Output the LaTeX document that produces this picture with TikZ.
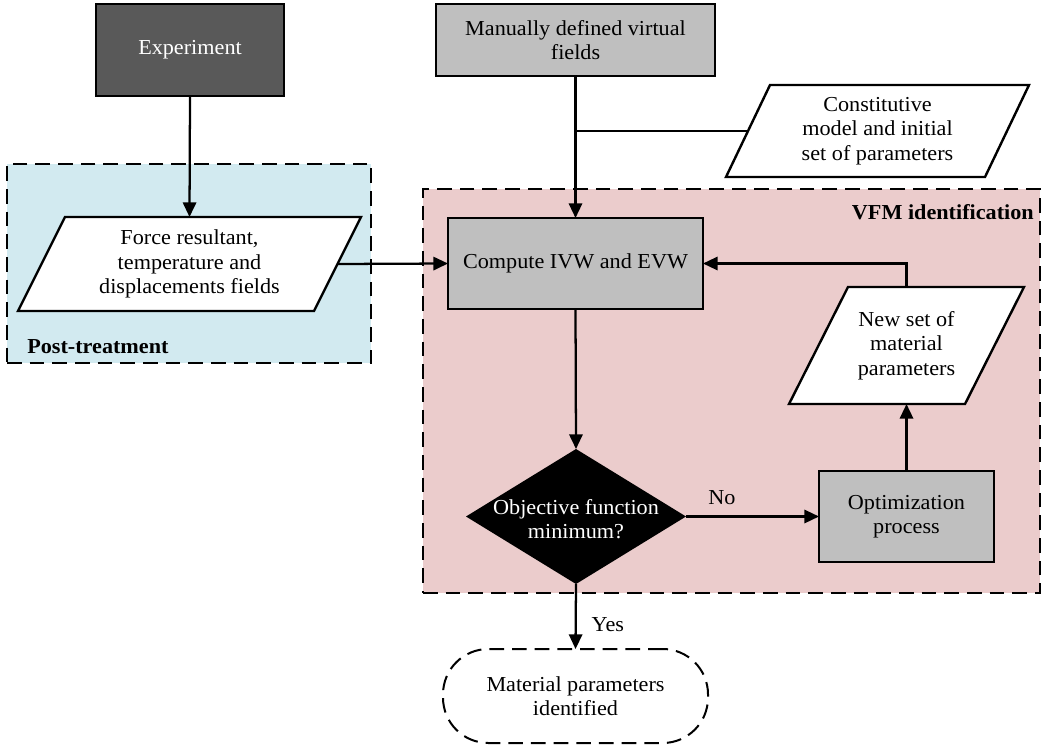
\documentclass[tikz,border=0pt]{standalone}
\usepackage{fontspec}
\setmainfont{Liberation Serif}[FakeStretch=1.04]
\usetikzlibrary{arrows.meta}
\pgfdeclarelayer{bg}
\pgfdeclarelayer{shp}
\pgfsetlayers{bg,shp,main}
\definecolor{darkbox}{HTML}{595959}
\definecolor{graybox}{HTML}{BFBFBF}
\definecolor{postblue}{HTML}{D2EAF0}
\definecolor{vfmpink}{HTML}{EBCCCC}
\begin{document}
\begin{tikzpicture}[x=0.75pt,y=-0.75pt,
  txt/.style={font=\fontsize{16}{18.2}\selectfont, align=center, inner sep=0pt, outer sep=0pt},
  boxed/.style={txt, draw, line width=1.8pt, rectangle},
  conn/.style={line width=1.7pt},
  arr/.style={conn, -{Triangle[length=11pt,width=10pt]}},
  pshape/.style={draw, fill=white, line width=1.8pt, line join=miter},
  region/.style={draw, line width=1.3pt, dash pattern=on 11pt off 6pt, inner sep=0pt, outer sep=0pt},
  lbl/.style={font=\fontsize{16}{18.2}\selectfont\bfseries, inner sep=0pt},
]
\useasboundingbox (0,0) rectangle (1044,749);

% regions
\begin{pgfonlayer}{bg}
\node (vfm) [region, fill=vfmpink, minimum width=462.75pt, minimum height=303pt] at (731.5,391) {};
\node (post) [region, fill=postblue, minimum width=273pt, minimum height=149.25pt] at (189,263.5) {};
\end{pgfonlayer}
\node[lbl, anchor=west] (postlbl) at (27,347) {Post-treatment};
\node[lbl, anchor=east] (vfmlbl) at (1034,212) {VFM identification};

% rectangles
\node (exp) [boxed, fill=darkbox, text=white, minimum width=141pt, minimum height=69pt] at (190,50) {Experiment};
\node (man) [boxed, fill=graybox, minimum width=209.25pt, minimum height=54pt] at (575.5,40) {Manually defined virtual\\fields};
\node (comp) [boxed, fill=graybox, minimum width=191.25pt, minimum height=68.25pt] at (575.5,263.5) {Compute IVW and EVW};
\node (opt) [boxed, fill=graybox, minimum width=131.25pt, minimum height=68.25pt] at (906.5,516.5) {Optimization\\process};
\node (term) [txt, draw, line width=1.5pt, dash pattern=on 11pt off 6pt, rounded corners=34pt, minimum width=198.75pt, minimum height=70.5pt] at (575.5,696) {Material parameters\\identified};

% parallelograms (text nodes, outline drawn behind)
\node (force) [txt, minimum width=257.25pt, minimum height=70.5pt] at (189.5,264) {Force resultant,\\temperature and\\displacements fields};
\node (cons) [txt, minimum width=227.25pt, minimum height=69pt] at (877.5,131) {Constitutive\\model and initial\\set of parameters};
\node (new) [txt, minimum width=176.25pt, minimum height=87.75pt] at (906.5,345.5) {New set of\\material\\parameters};
\begin{pgfonlayer}{shp}
\path[pshape] ([xshift=35.25pt]force.north west) -- (force.north east) -- ([xshift=-35.25pt]force.south east) -- (force.south west) -- cycle;
\path[pshape] ([xshift=33pt]cons.north west) -- (cons.north east) -- ([xshift=-33pt]cons.south east) -- (cons.south west) -- cycle;
\path[pshape] ([xshift=44.25pt]new.north west) -- (new.north east) -- ([xshift=-44.25pt]new.south east) -- (new.south west) -- cycle;
\end{pgfonlayer}

% decision diamond
\node (dia) [txt, minimum width=165pt, minimum height=101.25pt] at (576,516.5) {};
\begin{pgfonlayer}{shp}
\fill[black] (dia.north) -- (dia.east) -- (dia.south) -- (dia.west) -- cycle;
\end{pgfonlayer}
\node (diatxt) [txt, text=white] at (576,519) {Objective function\\minimum?};

% connectors
\draw[arr] (exp.south) -- (force.north);
\draw[arr] (man.south) -- (comp.north);
\draw[conn] ([xshift=16.5pt]cons.west) -- (cons.west -| man.south);
\draw[arr] ([xshift=-17.6pt]force.east) -- (comp.west);
\draw[arr] (comp.south) -- (dia.north);
\draw[arr] (dia.east) -- (opt.west) node[pos=0.27, above=9pt, txt] (no) {No};
\draw[arr] (opt.north) -- (new.south);
\draw[arr] (new.north) |- (comp.east);
\draw[arr] (dia.south) -- (term.north) node[pos=0.62, right=12pt, txt] (yes) {Yes};
\end{tikzpicture}
\end{document}
